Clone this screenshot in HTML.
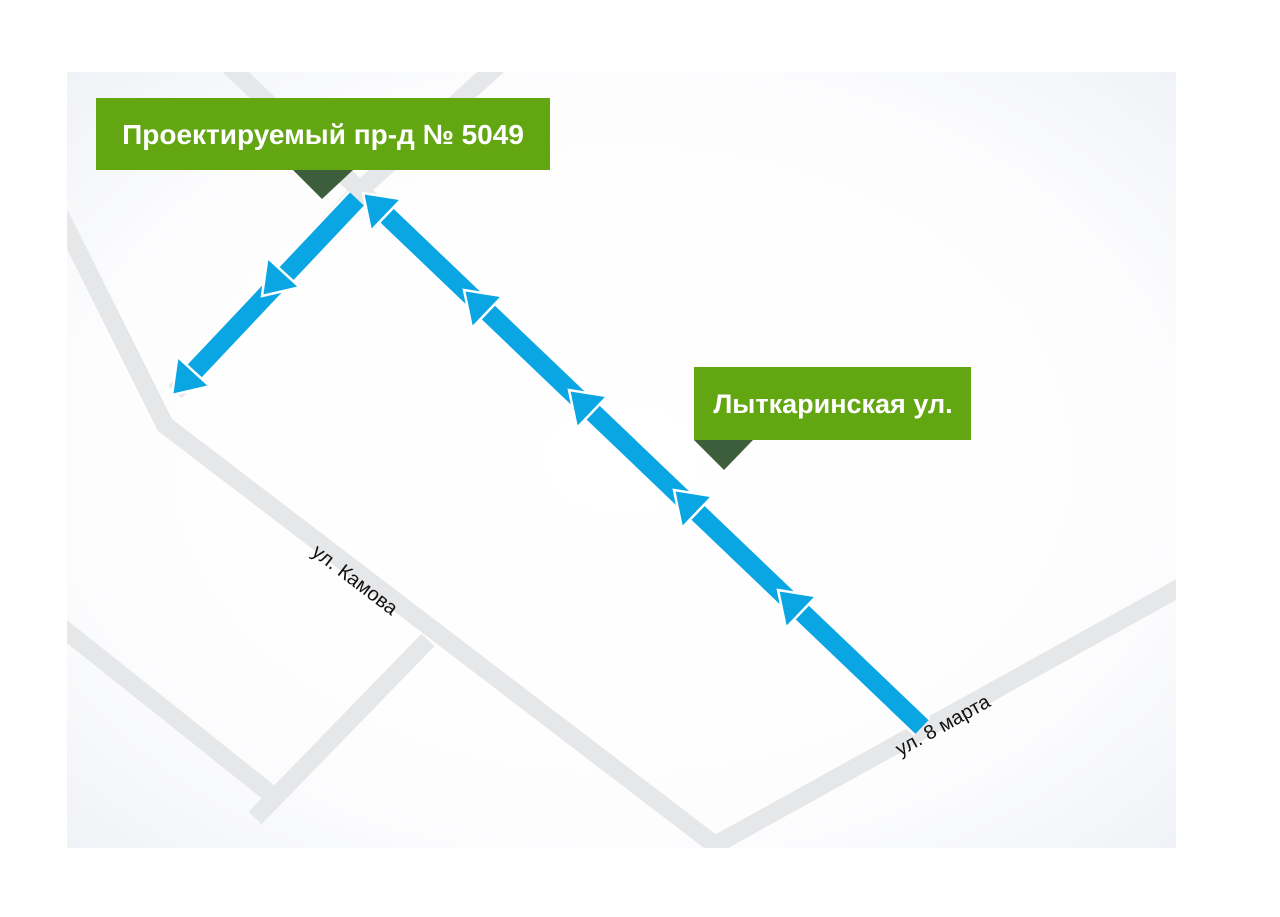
<!DOCTYPE html>
<html><head><meta charset="utf-8"><style>
html,body{margin:0;padding:0;background:#fff;width:1280px;height:917px;overflow:hidden}
svg{display:block}
</style></head><body>
<svg width="1280" height="917" viewBox="0 0 1280 917" xmlns="http://www.w3.org/2000/svg">
<defs>
<radialGradient id="bg" cx="0.5" cy="0.5" r="0.75">
<stop offset="0" stop-color="#ffffff"/>
<stop offset="0.65" stop-color="#fdfdfe"/>
<stop offset="1" stop-color="#edf0f5"/>
</radialGradient>
<clipPath id="c"><rect x="67" y="72" width="1109" height="776"/></clipPath>
<g id="hd"><polygon points="0,0 -32,-22 -32,22" fill="#0aa6e4" stroke="#fff" stroke-width="2.5" stroke-linejoin="miter"/></g>
</defs>
<rect x="67" y="72" width="1109" height="776" fill="url(#bg)"/>
<g clip-path="url(#c)" stroke="#e6e7e9" stroke-width="18" fill="none" stroke-linecap="butt">
<polyline points="60,215 165,425 715,845 1190,582"/>
<line x1="60" y1="626" x2="272" y2="795"/>
<line x1="255" y1="818" x2="428" y2="640"/>
<line x1="225" y1="62" x2="365" y2="195"/>
<line x1="515" y1="50" x2="360" y2="190"/>
<line x1="365" y1="195" x2="920" y2="725"/>
<line x1="360" y1="190" x2="175" y2="392"/>
</g>
<g stroke-linecap="butt">
<line x1="922" y1="727" x2="380" y2="209" stroke="#fff" stroke-width="24"/>
<line x1="922" y1="727" x2="380" y2="209" stroke="#0aa6e4" stroke-width="19"/>
<line x1="357" y1="199" x2="188" y2="378" stroke="#fff" stroke-width="24"/>
<line x1="357" y1="199" x2="188" y2="378" stroke="#0aa6e4" stroke-width="19"/>
</g>
<use href="#hd" transform="translate(778,590) rotate(-136.3)"/>
<use href="#hd" transform="translate(674,490) rotate(-136.3)"/>
<use href="#hd" transform="translate(569,390) rotate(-136.3)"/>
<use href="#hd" transform="translate(464,290) rotate(-136.3)"/>
<use href="#hd" transform="translate(363,193) rotate(-136.3)"/>
<use href="#hd" transform="translate(262,296) rotate(132.5)"/>
<use href="#hd" transform="translate(172,395) rotate(132.5)"/>
<polygon points="293,170 353,170 322,199" fill="#3d5e3b"/>
<rect x="96" y="98" width="454" height="72" fill="#62a612"/>
<text x="323" y="144" text-anchor="middle" fill="#fff" font-family="Liberation Sans, sans-serif" font-weight="bold" font-size="28">Проектируемый пр-д № 5049</text>
<polygon points="694,440 753,440 724,470" fill="#3d5e3b"/>
<rect x="694" y="367" width="277" height="73" fill="#62a612"/>
<text x="833" y="413" text-anchor="middle" fill="#fff" font-family="Liberation Sans, sans-serif" font-weight="bold" font-size="27">Лыткаринская ул.</text>
<text x="0" y="0" transform="translate(351,585) rotate(37.4)" text-anchor="middle" font-family="Liberation Sans, sans-serif" font-size="20" fill="#111">ул. Камова</text>
<text x="0" y="0" transform="translate(946,731) rotate(-29)" text-anchor="middle" font-family="Liberation Sans, sans-serif" font-size="20" fill="#111">ул. 8 марта</text>
</svg>
</body></html>
